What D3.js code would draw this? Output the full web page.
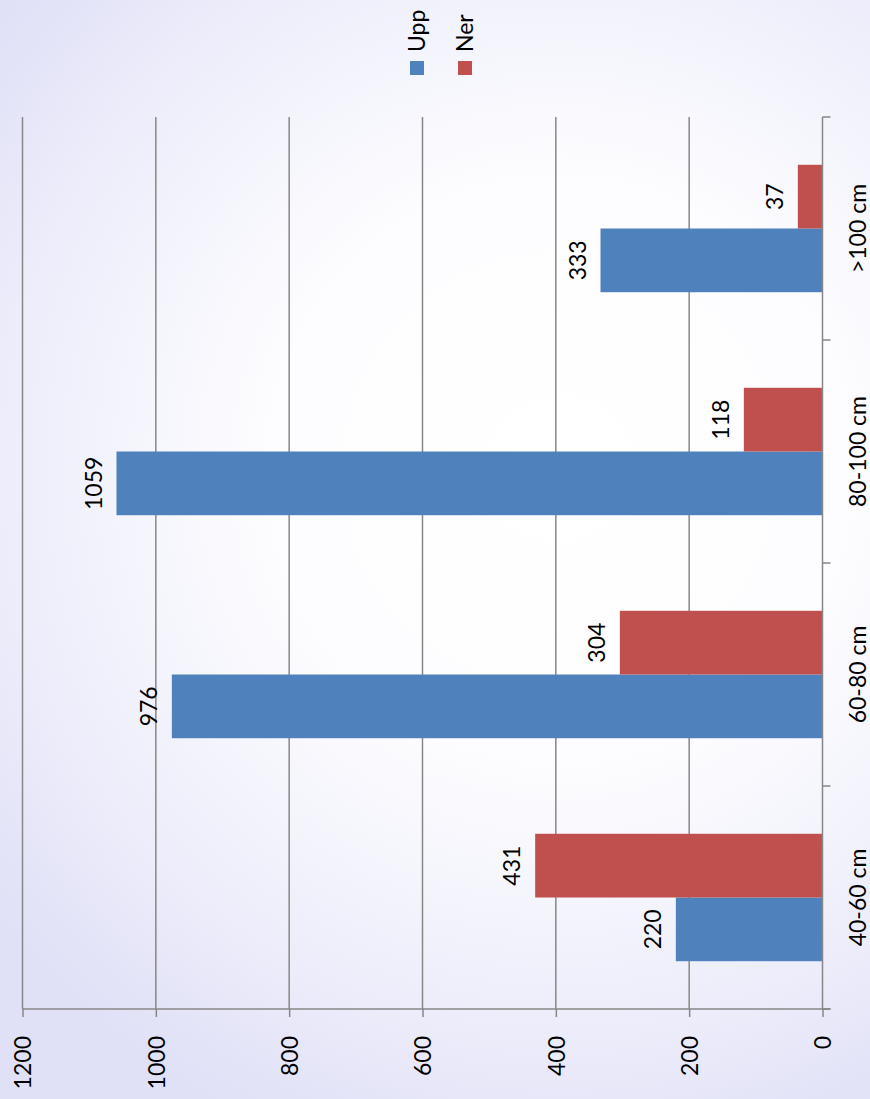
<!DOCTYPE html>
<html>
<head>
<meta charset="utf-8">
<script src="https://cdn.jsdelivr.net/npm/d3@7"></script>
<style>
  body { margin: 0; padding: 0; }
  svg { display: block; }
  text { font-family: Lato, "Open Sans", sans-serif; fill: #000; }
</style>
</head>
<body>
<svg id="chart"></svg>
<script>
// Chart data
var categories = ["40-60 cm", "60-80 cm", "80-100 cm", ">100 cm"];
var seriesNames = ["Upp", "Ner"];
var uppValues = [220, 976, 1059, 333];
var nerValues = [431, 304, 118, 37];
var valueTicks = [0, 200, 400, 600, 800, 1000, 1200];
var seriesColours = ["#4f81bd", "#c0504d"];

var W = 870, H = 1099;
// plot area (the chart is drawn turned a quarter turn, values run right to left)
var plot = { left: 22.5, right: 822.5, top: 117, bottom: 1009 };

var svg = d3.select("#chart").attr("width", W).attr("height", H);

// Background gradient
var defs = svg.append("defs");
var grad = defs.append("radialGradient")
    .attr("id", "bg")
    .attr("gradientUnits", "userSpaceOnUse")
    .attr("cx", 560).attr("cy", 470).attr("r", 720);
grad.append("stop").attr("offset", "0%").attr("stop-color", "#ffffff");
grad.append("stop").attr("offset", "40%").attr("stop-color", "#fdfdff");
grad.append("stop").attr("offset", "75%").attr("stop-color", "#eeeefb");
grad.append("stop").attr("offset", "100%").attr("stop-color", "#e0e0f7");

svg.append("rect")
    .attr("width", W).attr("height", H)
    .attr("fill", "url(#bg)");

// Scales
var x = d3.scaleLinear().domain([0, 1200]).range([plot.right, plot.left]);
var y0 = d3.scaleBand().domain(categories).range([plot.bottom, plot.top]).padding(0);
var barW = y0.bandwidth() / 3.5; // gap width 150%
var y1 = d3.scaleBand().domain(seriesNames)
    .range([y0.bandwidth() / 2 + barW, y0.bandwidth() / 2 - barW]);

var gridColour = "#878787";

// Gridlines
svg.append("g").attr("class", "grid")
  .selectAll("line")
  .data(valueTicks.filter(function(d) { return d > 0; }))
  .enter().append("line")
    .attr("x1", function(d) { return x(d); })
    .attr("x2", function(d) { return x(d); })
    .attr("y1", plot.top)
    .attr("y2", plot.bottom)
    .attr("stroke", gridColour)
    .attr("stroke-width", 1.5);

// Value axis (bottom)
var xAxis = d3.axisBottom(x)
    .tickValues(valueTicks)
    .tickFormat(d3.format("d"))
    .tickSize(8)
    .tickSizeOuter(0);
var gx = svg.append("g")
    .attr("transform", "translate(0," + plot.bottom + ")")
    .call(xAxis);
gx.select(".domain").remove();
gx.selectAll(".tick line").attr("stroke", gridColour).attr("stroke-width", 1.5);
gx.append("line")
    .attr("x1", plot.left).attr("x2", plot.right + 8)
    .attr("stroke", gridColour).attr("stroke-width", 1.5);
gx.selectAll(".tick text")
    .attr("transform", "rotate(-90)")
    .attr("x", -27)
    .attr("y", 0)
    .attr("dy", "0.36em")
    .attr("text-anchor", "end")
    .style("font-family", "Lato, sans-serif")
    .style("font-size", "23px")
    .attr("fill", "#000");

// Bars
var rows = categories.map(function(c, i) {
    return { cat: c, values: [
        { name: "Upp", value: uppValues[i] },
        { name: "Ner", value: nerValues[i] }
    ]};
});

var group = svg.append("g").selectAll(".cat")
    .data(rows)
  .enter().append("g")
    .attr("class", "cat")
    .attr("transform", function(d) { return "translate(0," + y0(d.cat) + ")"; });

group.selectAll("rect")
    .data(function(d) { return d.values; })
  .enter().append("rect")
    .attr("x", function(d) { return x(d.value); })
    .attr("y", function(d) { return y1(d.name); })
    .attr("width", function(d) { return x(0) - x(d.value); })
    .attr("height", y1.bandwidth())
    .attr("fill", function(d, i) { return seriesColours[i]; });

// Data labels
group.selectAll("text")
    .data(function(d) { return d.values; })
  .enter().append("text")
    .attr("transform", function(d) {
        return "translate(" + (x(d.value) - 15) + "," + (y1(d.name) + y1.bandwidth() / 2) + ") rotate(-90)";
    })
    .attr("text-anchor", "middle")
    .style("font-size", "23px")
    .text(function(d) { return d.value; });

// Category axis
var gy = svg.append("g");
gy.append("line")
    .attr("x1", plot.right).attr("x2", plot.right)
    .attr("y1", plot.top).attr("y2", plot.bottom)
    .attr("stroke", gridColour).attr("stroke-width", 1.5);
var bounds = categories.map(function(c) { return y0(c); }).concat([plot.bottom]);
gy.selectAll(".ctick")
    .data(bounds)
  .enter().append("line")
    .attr("class", "ctick")
    .attr("x1", plot.right).attr("x2", plot.right + 8)
    .attr("y1", function(d) { return d; })
    .attr("y2", function(d) { return d; })
    .attr("stroke", gridColour).attr("stroke-width", 1.5);
gy.selectAll(".clabel")
    .data(categories)
  .enter().append("text")
    .attr("class", "clabel")
    .attr("transform", function(d) {
        return "translate(" + 858 + "," + (y0(d) + y0.bandwidth() / 2) + ") rotate(-90)";
    })
    .attr("text-anchor", "middle")
    .attr("dy", "0.36em")
    .style("font-size", "23px")
    .text(function(d) { return d; });

// Legend
var legend = svg.append("g").attr("id", "legend");
var legendX = d3.scalePoint().domain(seriesNames).range([417, 465]);
var item = legend.selectAll(".item")
    .data(seriesNames)
  .enter().append("g")
    .attr("class", "item")
    .attr("transform", function(d) { return "translate(" + legendX(d) + ",0)"; });
item.append("rect")
    .attr("x", -7).attr("y", 61)
    .attr("width", 14).attr("height", 14)
    .attr("fill", function(d, i) { return seriesColours[i]; });
item.append("text")
    .attr("transform", "translate(0,52) rotate(-90)")
    .attr("text-anchor", "start")
    .attr("dy", "0.36em")
    .style("font-size", "23px")
    .text(function(d) { return d; });
</script>
</body>
</html>
